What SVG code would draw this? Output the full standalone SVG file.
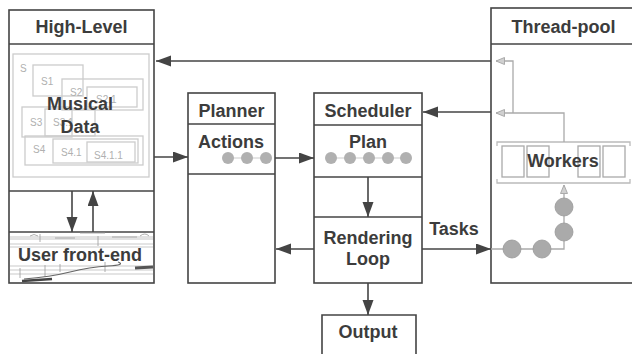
<svg xmlns="http://www.w3.org/2000/svg" width="632" height="354" viewBox="0 0 632 354">
<defs>
<style>
.box{fill:#fff;stroke:#444;stroke-width:1.6}
.ln{fill:none;stroke:#444;stroke-width:1.6}
.t{font-family:"Liberation Sans",Arial,sans-serif;font-weight:bold;font-size:18px;fill:#3c3c3c;text-anchor:middle}
.sb{fill:none;stroke:#ccc;stroke-width:1.3}
.sl{font-family:"Liberation Sans",Arial,sans-serif;font-size:10px;fill:#b0b0b0}
.g{fill:none;stroke:#aaa;stroke-width:1.3}
.dot{fill:#aaa;stroke:#999;stroke-width:0.8}
.sdot{fill:#b0b0b0}
.sc{fill:none;stroke:#bbb;stroke-width:0.8}
</style>
<marker id="ah" markerUnits="userSpaceOnUse" markerWidth="16" markerHeight="12" refX="15" refY="5.5" orient="auto"><path d="M0,0 L15,5.5 L0,11 z" fill="#444"/></marker>
<marker id="gh" markerUnits="userSpaceOnUse" markerWidth="10" markerHeight="9" refX="9" refY="4" orient="auto"><path d="M0.5,0.5 L9,4 L0.5,7.5 z" fill="#d0d0d0" stroke="#aaa" stroke-width="1"/></marker>
</defs>
<rect width="632" height="354" fill="#fff"/>

<g id="high-level">
<rect class="box" x="9" y="10" width="145" height="273"/>
<line class="ln" x1="9" y1="44" x2="154" y2="44"/>
<line class="ln" x1="9" y1="191" x2="154" y2="191"/>
<line class="ln" x1="9" y1="232" x2="154" y2="232"/>
<text class="t" x="81.5" y="33">High-Level</text>
<g id="musical-data">
<rect class="sb" x="13" y="54" width="136" height="123"/>
<text class="sl" x="20" y="72">S</text>
<rect class="sb" x="33" y="65" width="50" height="31"/>
<text class="sl" x="41" y="85">S1</text>
<rect class="sb" x="62" y="79" width="81" height="31"/>
<text class="sl" x="70" y="96">S2</text>
<rect class="sb" x="87" y="87" width="50" height="20"/>
<text class="sl" x="96" y="103">S2.1</text>
<rect class="sb" x="22" y="107" width="50" height="30"/>
<text class="sl" x="30" y="126">S3</text>
<rect class="sb" x="45" y="109" width="50" height="27"/>
<text class="sl" x="53" y="126">S3.1</text>
<rect class="sb" x="25" y="136" width="118" height="29"/>
<text class="sl" x="33" y="153">S4</text>
<rect class="sb" x="53" y="139" width="85" height="24"/>
<text class="sl" x="61" y="156">S4.1</text>
<rect class="sb" x="87" y="142" width="48" height="20"/>
<text class="sl" x="94" y="159">S4.1.1</text>
<text class="t" x="80" y="110">Musical</text>
<text class="t" x="80" y="133">Data</text>
</g>
<g id="user-front-end">
<rect x="10" y="236" width="143" height="4" fill="#e2e2e2"/>
<line class="sc" x1="10" y1="244" x2="153" y2="244"/>
<line class="sc" x1="10" y1="247" x2="153" y2="247"/>
<line class="sc" x1="10" y1="266" x2="153" y2="266"/>
<line class="sc" x1="10" y1="270" x2="153" y2="270"/>
<line class="sc" x1="10" y1="274" x2="153" y2="274"/>
<path d="M30 236 q4 -3 8 0 M40 234 l0 8 M55 238 l20 0 M80 233 l25 0 M98 236 l0 10 M112 237 l25 0 M140 236 q5 -4 9 0 M20 268 l0 10 M45 265 l0 12 M60 264 l0 8 M105 262 l0 10" fill="none" stroke="#999" stroke-width="0.8"/>
<path d="M24 279 Q50 277 70 272 T108 266 T118 262" fill="none" stroke="#666" stroke-width="1.2"/>
<path d="M22 281 L52 279" stroke="#444" stroke-width="2.5"/>
<path d="M135 268 L153 267" stroke="#555" stroke-width="3"/>
<text class="t" x="80" y="261">User front-end</text>
</g>
</g>

<g id="planner">
<rect class="box" x="188" y="93" width="87" height="190"/>
<line class="ln" x1="188" y1="124" x2="275" y2="124"/>
<line class="ln" x1="188" y1="174" x2="275" y2="174"/>
<text class="t" x="231.5" y="117">Planner</text>
<text class="t" x="231" y="148">Actions</text>
<line x1="228" y1="158" x2="266" y2="158" stroke="#ddd" stroke-width="1.5"/>
<circle class="sdot" cx="228" cy="158" r="6"/>
<circle class="sdot" cx="247" cy="158" r="6"/>
<circle class="sdot" cx="266" cy="158" r="6"/>
</g>

<g id="scheduler">
<rect class="box" x="314" y="93" width="108" height="190"/>
<line class="ln" x1="314" y1="125" x2="422" y2="125"/>
<line class="ln" x1="314" y1="177" x2="422" y2="177"/>
<line class="ln" x1="314" y1="217" x2="422" y2="217"/>
<text class="t" x="368" y="117">Scheduler</text>
<text class="t" x="368" y="148">Plan</text>
<line x1="331" y1="158" x2="406" y2="158" stroke="#ddd" stroke-width="1.5"/>
<circle class="sdot" cx="331" cy="158" r="6"/>
<circle class="sdot" cx="350" cy="158" r="6"/>
<circle class="sdot" cx="369" cy="158" r="6"/>
<circle class="sdot" cx="388" cy="158" r="6"/>
<circle class="sdot" cx="406" cy="158" r="6"/>
<text class="t" x="368" y="244">Rendering</text>
<text class="t" x="368" y="265">Loop</text>
</g>

<g id="output">
<path class="ln" d="M322 356 L322 315 L416 315 L416 356"/>
<text class="t" x="368" y="338">Output</text>
</g>

<g id="thread-pool">
<rect class="box" x="491" y="8" width="146" height="275"/>
<line class="ln" x1="491" y1="44" x2="637" y2="44"/>
<text class="t" x="563.5" y="33">Thread-pool</text>
<g id="workers">
<path d="M497 146 L497 142 L630 142 L630 146 M497 179 L497 183 L630 183 L630 179" fill="none" stroke="#bbb" stroke-width="1.3"/>
<rect class="g" x="502" y="146" width="22" height="31"/>
<rect class="g" x="527" y="146" width="22" height="31"/>
<rect class="g" x="578" y="146" width="22" height="31"/>
<rect class="g" x="603" y="146" width="22" height="31"/>
<text class="t" x="563" y="167">Workers</text>
</g>
</g>

<g id="connectors">
<line class="ln" x1="491" y1="61" x2="156" y2="61" marker-end="url(#ah)"/>
<line class="ln" x1="491" y1="112" x2="423" y2="112" marker-end="url(#ah)"/>
<line class="ln" x1="154" y1="157" x2="188" y2="157" marker-end="url(#ah)"/>
<line class="ln" x1="275" y1="158" x2="314" y2="158" marker-end="url(#ah)"/>
<line class="ln" x1="368" y1="177" x2="368" y2="217" marker-end="url(#ah)"/>
<line class="ln" x1="314" y1="249" x2="276" y2="249" marker-end="url(#ah)"/>
<line class="ln" x1="368" y1="283" x2="368" y2="315" marker-end="url(#ah)"/>
<line class="ln" x1="422" y1="249" x2="491" y2="249" marker-end="url(#ah)"/>
<text class="t" x="454" y="235">Tasks</text>
<line class="ln" x1="72" y1="191" x2="72" y2="232" marker-end="url(#ah)"/>
<line class="ln" x1="93" y1="232" x2="93" y2="191" marker-end="url(#ah)"/>
<path class="g" d="M564 142 L564 113 L496 113" marker-end="url(#gh)"/>
<path class="g" d="M513 113 L513 61 L496 61" marker-end="url(#gh)"/>
<path class="g" d="M491 249 L564 249 L564 185" marker-end="url(#gh)"/>
<circle class="dot" cx="512" cy="249" r="9"/>
<circle class="dot" cx="542" cy="249" r="9"/>
<circle class="dot" cx="564" cy="232" r="9"/>
<circle class="dot" cx="564" cy="207" r="9"/>
</g>
</svg>
